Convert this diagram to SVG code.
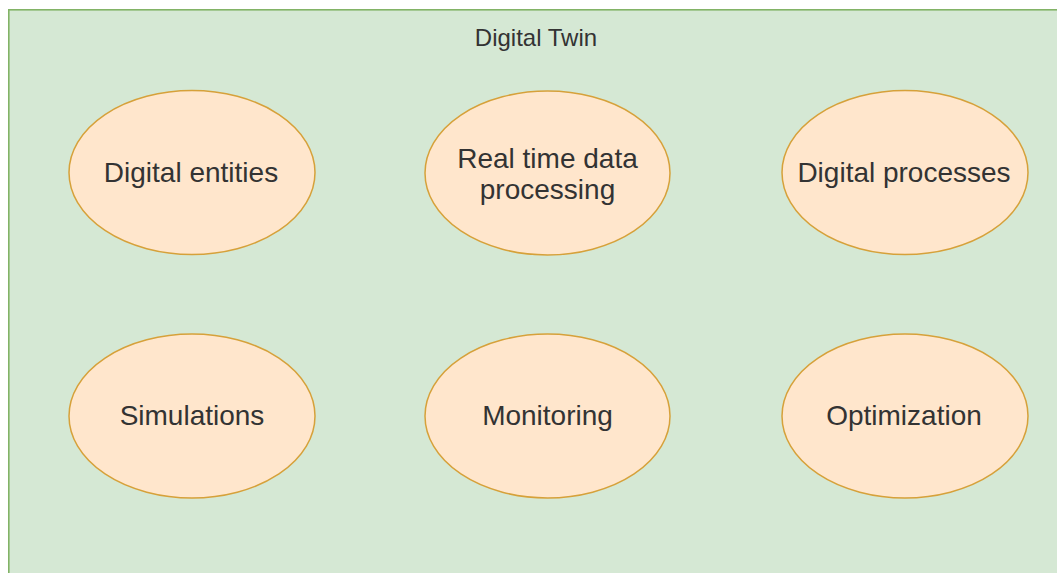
<svg xmlns="http://www.w3.org/2000/svg" width="1057" height="573" viewBox="0 0 1057 573">
  <style>
    .frame { fill: #d5e8d4; stroke: #82b366; stroke-width: 1.6; }
    .node ellipse { fill: #ffe6cc; stroke: #d6a13a; stroke-width: 1.5; }
    .label { font-family: "Liberation Sans", Arial, sans-serif; font-size: 28px; fill: #333333; text-anchor: middle; }
    .title { font-family: "Liberation Sans", Arial, sans-serif; font-size: 24px; fill: #333333; text-anchor: middle; }
  </style>

  <!-- container -->
  <g id="digital-twin">
    <rect class="frame" x="8.8" y="9.8" width="1100" height="600"/>
    <text class="title" x="536" y="46">Digital Twin</text>
  </g>

  <!-- top row -->
  <g id="digital-entities" class="node">
    <ellipse cx="192" cy="172.5" rx="123" ry="82"/>
    <text class="label" x="191" y="182">Digital entities</text>
  </g>
  <g id="real-time-data-processing" class="node">
    <ellipse cx="547.5" cy="173" rx="122.5" ry="82"/>
    <text class="label" x="547.5" y="168">Real time data</text>
    <text class="label" x="547.5" y="199">processing</text>
  </g>
  <g id="digital-processes" class="node">
    <ellipse cx="905" cy="172.5" rx="123" ry="82"/>
    <text class="label" x="904" y="182">Digital processes</text>
  </g>

  <!-- bottom row -->
  <g id="simulations" class="node">
    <ellipse cx="192" cy="416" rx="123" ry="82"/>
    <text class="label" x="192" y="425">Simulations</text>
  </g>
  <g id="monitoring" class="node">
    <ellipse cx="547.5" cy="416" rx="122.5" ry="82"/>
    <text class="label" x="547.5" y="425">Monitoring</text>
  </g>
  <g id="optimization" class="node">
    <ellipse cx="905" cy="416" rx="123" ry="82"/>
    <text class="label" x="904" y="425">Optimization</text>
  </g>

  <!-- no connectors between the nodes -->
  <g id="connectors"/>
</svg>
